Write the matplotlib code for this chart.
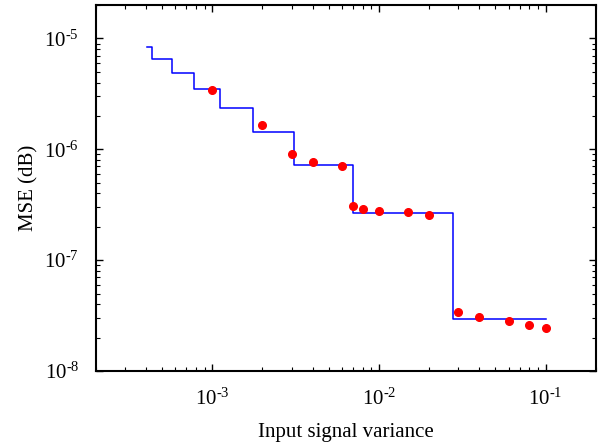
import matplotlib
matplotlib.use("Agg")
import matplotlib.pyplot as plt
from matplotlib.ticker import FuncFormatter
import numpy as np

plt.rcParams['font.family'] = ['Liberation Serif', 'DejaVu Serif']
plt.rcParams['mathtext.fontset'] = 'custom'
plt.rcParams['mathtext.rm'] = 'Liberation Serif'
plt.rcParams['mathtext.it'] = 'Liberation Serif:italic'
plt.rcParams['axes.unicode_minus'] = False

# Staircase (step) curve
step_edges = [4.04e-4, 4.35e-4, 5.70e-4, 7.80e-4, 1.11e-3, 1.75e-3, 3.09e-3, 6.97e-3, 2.77e-2, 0.1]
step_levels = [8.3e-6, 6.47e-6, 4.88e-6, 3.52e-6, 2.36e-6, 1.42e-6, 7.28e-7, 2.64e-7, 2.92e-8]

# Measured points
pt_x = [1e-3, 2e-3, 3e-3, 4e-3, 6e-3, 7e-3, 8e-3, 1e-2, 1.5e-2, 2e-2, 3e-2, 4e-2, 6e-2, 8e-2, 0.1]
pt_y = [3.45e-6, 1.67e-6, 9.14e-7, 7.69e-7, 7.13e-7, 3.11e-7, 2.90e-7, 2.75e-7, 2.71e-7, 2.54e-7,
        3.43e-8, 3.05e-8, 2.85e-8, 2.60e-8, 2.46e-8]

fig = plt.figure(figsize=(6.06, 4.43), dpi=100)
ax = fig.add_axes([0.158, 0.1625, 0.825, 0.826])

ax.step(step_edges, step_levels + [step_levels[-1]], where='post', color='#0000ff', lw=1.1)
ax.plot(pt_x, pt_y, 'o', color='#ff0000', ms=5.5, mec='#ff0000')

ax.set_xscale('log')
ax.set_yscale('log')
ax.set_xlim(2e-4, 0.2)
ax.set_ylim(1e-8, 2e-5)
ax.set_xticks([1e-3, 1e-2, 1e-1])
ax.set_yticks([1e-8, 1e-7, 1e-6, 1e-5])


def fmt(v, pos):
    e = int(round(np.log10(v)))
    return r'$\mathregular{10^{' + ('\u2010' if e < 0 else '') + str(abs(e)) + '}}$'


ax.xaxis.set_major_formatter(FuncFormatter(fmt))
ax.yaxis.set_major_formatter(FuncFormatter(fmt))

ax.tick_params(which='both', direction='in', top=True, right=True, labelsize=15)
ax.tick_params(which='major', length=5, width=1)
ax.tick_params(which='minor', length=3, width=0.8)
ax.tick_params(axis='x', pad=13)
ax.tick_params(axis='y', pad=12)
for s in ax.spines.values():
    s.set_linewidth(1.5)

ax.set_xlabel('Input signal variance', fontsize=15, labelpad=9)
ax.set_ylabel('MSE (dB)', fontsize=15, labelpad=4)

fig.savefig('out.png', dpi=100)
